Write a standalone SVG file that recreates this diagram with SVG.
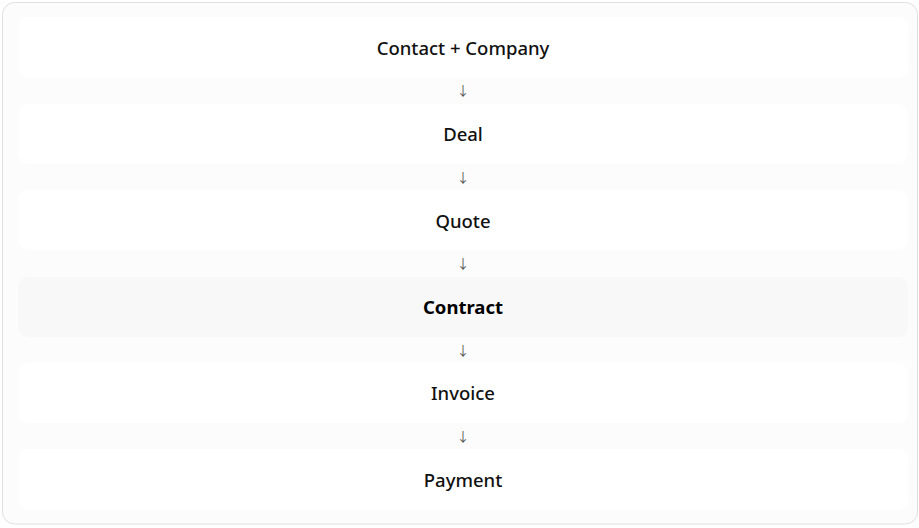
<svg xmlns="http://www.w3.org/2000/svg" width="919" height="528" viewBox="0 0 919 528">
<style>
.box{fill:#ffffff;}
.hl{fill:#f8f8f8;}
.lbl{font-family:"Noto Sans","Open Sans",sans-serif;font-size:18.5px;font-weight:500;fill:#111;text-anchor:middle;}
.bold{font-weight:700;fill:#000;}
.arr{font-family:"Noto Sans CJK JP","DejaVu Sans",sans-serif;font-size:13px;fill:#555;text-anchor:middle;}
</style>
<rect x="2.5" y="2.5" width="915" height="521.5" rx="12" fill="#fcfcfc" stroke="#e0e0e0" stroke-width="1"/>
<g id="n1"><rect class="box" x="18" y="17" width="890" height="61" rx="10"/><text class="lbl" x="463" y="54.5">Contact + Company</text></g>
<g id="n2"><rect class="box" x="18" y="104" width="890" height="60" rx="10"/><text class="lbl" x="463" y="141">Deal</text></g>
<g id="n3"><rect class="box" x="18" y="190" width="890" height="60" rx="10"/><text class="lbl" x="463" y="227.5">Quote</text></g>
<g id="n4"><rect class="hl" x="18" y="277" width="890" height="60" rx="10"/><text class="lbl bold" x="463" y="314">Contract</text></g>
<g id="n5"><rect class="box" x="18" y="363" width="890" height="60" rx="10"/><text class="lbl" x="463" y="400">Invoice</text></g>
<g id="n6"><rect class="box" x="18" y="449" width="890" height="61" rx="10"/><text class="lbl" x="463" y="486.5">Payment</text></g>
<g id="connectors">
<text class="arr" x="463" y="95">↓</text>
<text class="arr" x="463" y="182">↓</text>
<text class="arr" x="463" y="268">↓</text>
<text class="arr" x="463" y="355">↓</text>
<text class="arr" x="463" y="441">↓</text>
</g>
</svg>
